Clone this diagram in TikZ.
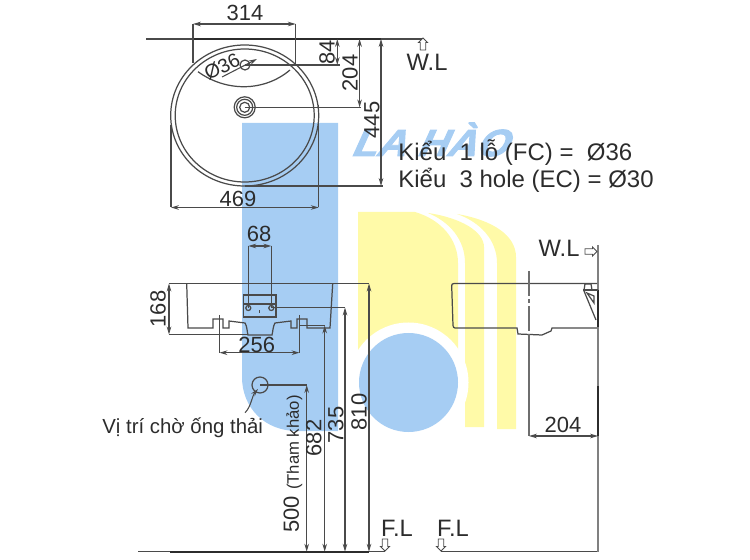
\documentclass[tikz,border=0pt]{standalone}
\usepackage{fontspec}
\usetikzlibrary{arrows.meta}
\setmainfont{Liberation Sans}
\newfontfamily\markfont[UprightFont=* Bold, FakeSlant=0.42, FakeBold=2.5]{Liberation Sans}

\definecolor{markblue}{HTML}{A6CDF3}
\definecolor{markyellow}{HTML}{FFFAA8}
\definecolor{inkline}{HTML}{4A4A4A}
\definecolor{inktext}{HTML}{2C2C2C}

\begin{document}
\begin{tikzpicture}[
  x=0.02cm, y=-0.02cm,
  >={Stealth[length=4.5pt,width=2.6pt]},
  part/.style={draw=inkline, line width=0.7pt},
  dimline/.style={draw=inkline, line width=0.6pt},
  extline/.style={draw=inkline, line width=0.6pt},
  dimtext/.style={text=inktext, inner sep=0pt, font=\fontsize{12.5}{14}\selectfont},
  marktext/.style={dimtext, font=\fontsize{13.5}{15}\selectfont},
  notetext/.style={text=inktext, inner sep=0pt, anchor=west, font=\fontsize{13.65}{15}\selectfont},
  flarrow/.pic={
    \draw [draw=inkline, fill=white, line width=0.5pt]
      (0,0) -- (4.5,-4.5) -- (2.7,-4.5) -- (2.7,-12) -- (-2.7,-12) -- (-2.7,-4.5) -- (-4.5,-4.5) -- cycle;
  },
]
\useasboundingbox (0,0) rectangle (750,560);

% watermark
\fill [markblue] (242,123) -- (338,123) -- (338,431) -- (297,431)
  .. controls (265,431) and (242,408) .. (242,377) -- cycle;
\fill [markyellow] (358,212) -- (415,212) .. controls (442,220) and (458,240) .. (458,263)
  -- (458,360) -- (358,360) -- cycle;
\fill [markyellow] (428,213) .. controls (462,218) and (484,232) .. (484,247) -- (484,427) -- (465,427)
  -- (465,263) .. controls (465,240) and (450,222) .. (428,213) -- cycle;
\fill [markyellow] (457,214) .. controls (492,220) and (516,235) .. (516,257) -- (516,429) -- (497,429)
  -- (497,263) .. controls (497,240) and (480,222) .. (457,214) -- cycle;
\fill [white] (408.5,382.5) circle [radius=60];
\fill [markblue] (408.5,382.5) circle [radius=49.5];
\node (markname) [text=markblue, inner sep=0pt, anchor=base west, xscale=1.08,
  font=\fontsize{21.5}{24}\markfont] at (350,156) {LA HÀO};

% plan view
\draw [part] (244.7,115.5) circle [x radius=74, y radius=70.5];
\draw [part] (244.7,115.5) circle [x radius=69.5, y radius=66.5];
\draw [part] (198,71.7) .. controls (226,92) and (264,92) .. (290,70);
\draw [part] (245,65) circle [radius=5];
\draw [part] (244.7,107.3) circle [radius=10.5];
\draw [part] (244.7,107.3) circle [radius=8];
\draw [part] (244.7,107.3) circle [radius=5];
\coordinate (leadA) at (222,77);
\coordinate (leadB) at (257,59);
\draw [dimline, <-] (leadB) -- (leadA);
\node (holelabel) [dimtext, rotate=27, font=\fontsize{11.2}{13}\selectfont] at (222,66.5) {Ø36};

\coordinate (wlL) at (146,39);
\coordinate (wlR) at (423,39);
\coordinate (wlA) at (193,39);
\coordinate (wlB) at (381,39);
\draw [draw=inkline, line width=0.7pt] (wlL) -- (wlR);
\draw [draw=inktext, line width=1.2pt] (wlA) -- (wlB);
\pic [rotate=180] at (423,38) {flarrow};
\node (wltop) [marktext] at (427,62) {W.L};

\coordinate (a314) at (193,24);
\coordinate (b314) at (295.7,24);
\draw [extline] (a314) -- (193,63);
\draw [extline] (b314) -- (295.7,65);
\draw [dimline, <->] (a314) -- (b314);
\node (lab314) [dimtext] at (245,13) {314};

\coordinate (a84) at (337.3,39);
\coordinate (b84) at (337.3,65);
\draw [extline] (245,65) -- (340,65);
\draw [dimline, <->] (a84) -- (b84);
\node (lab84) [dimtext, rotate=90] at (327,52.7) {84};

\coordinate (a204) at (359.6,39);
\coordinate (b204) at (359.6,107.3);
\draw [extline] (244.7,107.3) -- (361,107.3);
\draw [dimline, <->] (a204) -- (b204);
\node (lab204) [dimtext, rotate=90] at (350,73) {204};

\coordinate (a445) at (381,39);
\coordinate (b445) at (381,186);
\draw [extline] (244.7,186) -- (383,186);
\draw [dimline, <->] (a445) -- (b445);
\node (lab445) [dimtext, rotate=90] at (372,120) {445};

\coordinate (a469) at (171,207.5);
\coordinate (b469) at (318.7,207.5);
\draw [extline] (171,125) -- (a469);
\draw [extline] (318.7,105) -- (b469);
\draw [dimline, <->] (a469) -- (b469);
\node (lab469) [dimtext] at (238,199) {469};

\node (typeone) [notetext] at (398,153) {Kiểu\ \ 1 lỗ (FC) =\ \ Ø36};
\node (typetwo) [notetext] at (398,180) {Kiểu\ \ 3 hole (EC) = Ø30};

% front view
\draw [part] (186.7,283.5) -- (188,328) -- (213,328) -- (213,319) -- (223,319) -- (223,328)
  -- (229,328) -- (229,321) -- (245,323) .. controls (247,326) and (247,331) .. (248,335) -- (272,335)
  .. controls (273,331) and (273,326) .. (275,323) -- (291,321) -- (291,328) -- (297,328) -- (297,319)
  -- (307,319) -- (307,328) -- (330,328) -- (332.7,283.5);
\draw [part] (243.3,295) rectangle (276,317);
\draw [part] (243.3,304) -- (276,304);
\draw [part] (248.3,308) circle [radius=2.5];
\draw [part] (271.3,308) circle [radius=2.5];
\draw [part] (259.5,310.5) -- (259.5,313.5);

\coordinate (top168) at (169,283.5);
\coordinate (low168) at (169,334.5);
\coordinate (top810) at (369,283.5);
\coordinate (end810) at (369,551.7);
\draw [extline] (top168) -- (top810);
\draw [extline] (low168) -- (248,334.5);
\draw [dimline, <->] (top168) -- (low168);
\node (lab168) [dimtext, rotate=90] at (158,309) {168};

\coordinate (a256) at (219.5,352.7);
\coordinate (b256) at (299.5,352.7);
\draw [extline] (219.5,315) -- (a256);
\draw [extline] (299.5,315) -- (b256);
\draw [dimline, <->] (a256) -- (b256);
\node (lab256) [dimtext] at (256.7,345) {256};

\coordinate (a68) at (248.3,246);
\coordinate (b68) at (271.3,246);
\draw [extline] (a68) -- (248.3,308);
\draw [extline] (b68) -- (271.3,308);
\draw [dimline, <->] (a68) -- (b68);
\node (lab68) [dimtext] at (259,234) {68};

% heights from the floor
\coordinate (top735) at (345,307.5);
\coordinate (end735) at (345,551.7);
\coordinate (top682) at (324.7,325.5);
\coordinate (end682) at (324.7,551.7);
\coordinate (top500) at (306.7,385);
\coordinate (end500) at (306.7,551.7);
\draw [extline] (271.3,307.5) -- (top735);
\draw [extline] (300,325.5) -- (top682);
\draw [extline] (260,385) -- (top500);
\draw [dimline, <->] (top810) -- (end810);
\draw [dimline, <->] (top735) -- (end735);
\draw [dimline, <->] (top682) -- (end682);
\draw [dimline, <->] (top500) -- (end500);
\node (lab810) [dimtext, rotate=90] at (359,412) {810};
\node (lab735) [dimtext, rotate=90] at (335.7,425) {735};
\node (lab682) [dimtext, rotate=90] at (313.7,438) {682};
\node (lab500) [dimtext, rotate=90, anchor=west] at (293,533)
  {500 {\fontsize{9.5}{11}\selectfont (Tham khảo)}};

\draw [part] (260,385) circle [radius=8];
\coordinate (pipeA) at (245,412.7);
\coordinate (pipeB) at (258,389);
\draw [dimline, ->] (pipeA) .. controls (251,407) and (252,396) .. (pipeB);
\node (pipelabel) [dimtext, anchor=west, font=\fontsize{11.6}{14}\selectfont] at (102,428) {Vị trí chờ ống thải};

\coordinate (flA) at (138,551.7);
\coordinate (flB) at (385,551.7);
\coordinate (flC) at (170,551.7);
\coordinate (flD) at (441,551.7);
\coordinate (flE) at (598,551.7);
\draw [draw=inkline, line width=0.7pt] (flA) -- (flB);
\draw [draw=inktext, line width=1.2pt] (flC) -- (end810);
\draw [draw=inkline, line width=0.7pt] (flD) -- (flE);
\pic at (385,551) {flarrow};
\pic at (441,551) {flarrow};
\node (flleft) [marktext] at (397,528) {F.L};
\node (flright) [marktext] at (453,528) {F.L};

% side view
\coordinate (wallT) at (598,245);
\coordinate (wallB) at (598,551.7);
\draw [draw=inkline!70, line width=1pt] (wallT) -- (wallB);
\draw [draw=inktext, line width=1.2pt] (598,290) -- (598,327);
\pic [rotate=90] at (597,251.5) {flarrow};
\node (wlside) [marktext] at (559,248) {W.L};

\draw [part] (597,283.5) -- (454,283.5) .. controls (452,283.5) and (451.7,284.5) .. (451.7,286)
  -- (453,325.5) .. controls (453,327) and (454,328) .. (455,328) -- (517,328) -- (518,334) -- (542,335)
  -- (551,331) -- (552,328) -- (597,328);
\draw [part] (584,284) -- (591,284) -- (592,290);
\draw [part] (584,290) -- (585,284);
\draw [part] (583,290) -- (598,290);
\draw [part] (584,291) -- (596,320);
\draw [part] (587,293) -- (594,296) -- (594,303) -- cycle;

\coordinate (cenA) at (529,271);
\coordinate (cenB) at (529,335);
\coordinate (a204s) at (529,436);
\coordinate (b204s) at (598,436);
\draw [draw=inkline!80, line width=0.7pt, dash pattern=on 14pt off 2pt on 2pt off 2pt] (cenA) -- (cenB);
\draw [draw=inkline!80, line width=0.7pt] (cenB) -- (a204s);
\draw [dimline, <->] (a204s) -- (b204s);
\draw [draw=inktext, line width=1.2pt] (598,386) -- (b204s);
\node (labs204) [dimtext] at (563,425) {204};

\end{tikzpicture}
\end{document}
